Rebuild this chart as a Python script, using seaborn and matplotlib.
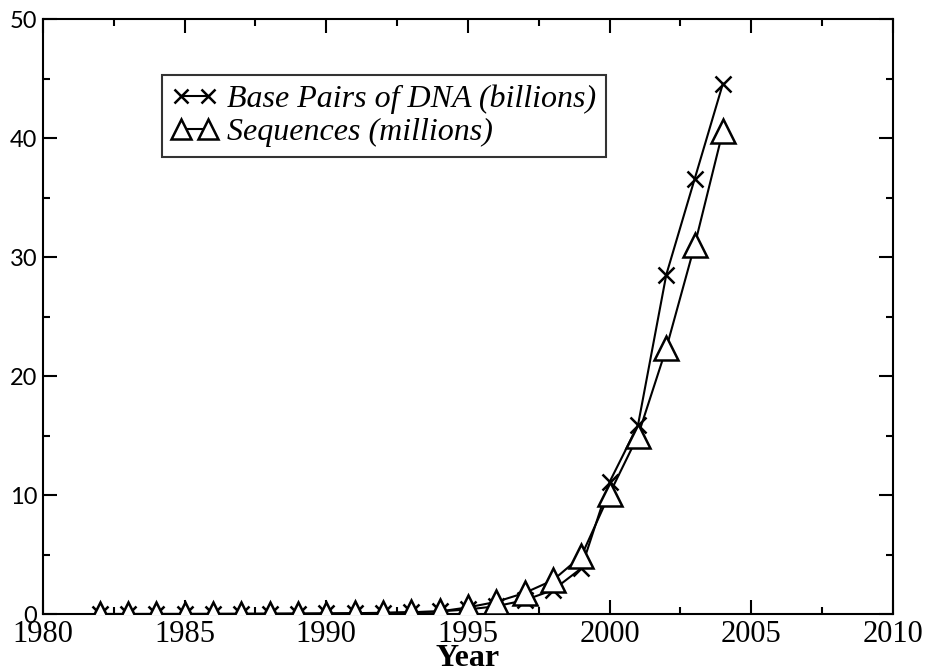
import matplotlib
matplotlib.use("Agg")
import matplotlib.pyplot as plt
import seaborn as sns
import pandas as pd

# GenBank growth, 1982-2004
years = [1982, 1983, 1984, 1985, 1986, 1987, 1988, 1989, 1990, 1991, 1992, 1993,
         1994, 1995, 1996, 1997, 1998, 1999, 2000, 2001, 2002, 2003, 2004]
base_pairs_billions = [0.00068, 0.0023, 0.0034, 0.0052, 0.0096, 0.0155, 0.0238, 0.0348,
                       0.0492, 0.0719, 0.101, 0.157, 0.217, 0.385, 0.652, 1.16, 2.01,
                       3.84, 11.10, 15.85, 28.51, 36.55, 44.58]
sequences_millions = [0.0006, 0.0024, 0.0042, 0.0057, 0.0100, 0.0146, 0.0206, 0.0288,
                      0.0395, 0.0556, 0.0786, 0.143, 0.215, 0.556, 1.02, 1.77, 2.84,
                      4.86, 10.11, 14.98, 22.32, 30.97, 40.60]

bp_label = "Base Pairs of DNA (billions)"
seq_label = "Sequences (millions)"

df = pd.DataFrame({"Year": years, "bp": base_pairs_billions, "seq": sequences_millions})

sns.set_theme(style="white")
plt.rcParams["font.family"] = ["Liberation Serif", "DejaVu Serif"]
for key in ("text.color", "axes.labelcolor", "xtick.color", "ytick.color", "axes.edgecolor"):
    plt.rcParams[key] = "black"

fig = plt.figure(figsize=(9.26, 6.72), dpi=100)
ax = fig.add_axes([0.0464, 0.0863, 0.9179, 0.8854])

sns.lineplot(data=df, x="Year", y="bp", ax=ax, color="black", linewidth=1.5,
             marker="x", markersize=12, markeredgewidth=1.8, markeredgecolor="black",
             label=bp_label, zorder=3)
sns.lineplot(data=df, x="Year", y="seq", ax=ax, color="black", linewidth=1.5,
             marker="^", markersize=17, markeredgewidth=1.8, markeredgecolor="black",
             markerfacecolor="white", label=seq_label, zorder=4)

ax.set_xlim(1980, 2010)
ax.set_ylim(0, 50)
ax.set_xticks([1980, 1985, 1990, 1995, 2000, 2005, 2010])
ax.set_xticks([1982.5, 1987.5, 1992.5, 1997.5, 2002.5, 2007.5], minor=True)
ax.set_yticks([0, 10, 20, 30, 40, 50])
ax.set_yticks([5, 15, 25, 35, 45], minor=True)

ax.tick_params(which="both", direction="in", top=True, right=True,
               bottom=True, left=True, color="black", labelcolor="black", width=1.5)
ax.tick_params(which="major", length=10)
ax.tick_params(which="minor", length=5)
ax.tick_params(axis="x", which="major", labelsize=22, pad=4)
ax.tick_params(axis="y", which="major", labelsize=17, pad=4)
for lab in ax.get_yticklabels():
    lab.set_family("Lato")

for sp in ax.spines.values():
    sp.set_color("black")
    sp.set_linewidth(1.5)

ax.set_xlabel("Year", fontsize=23, fontweight="bold", labelpad=-3, color="black")
ax.set_ylabel("")

leg = ax.legend(loc="upper left", bbox_to_anchor=(162 / 926, 1 - 75 / 672),
                bbox_transform=fig.transFigure, numpoints=2, handlelength=1.45,
                handletextpad=0.3, borderpad=0.3, labelspacing=0.12,
                markerscale=0.85, frameon=True, fancybox=False, borderaxespad=0,
                prop={"family": "Liberation Serif", "style": "italic", "size": 23})
leg.get_frame().set_edgecolor("black")
leg.get_frame().set_linewidth(1.5)
for t in leg.get_texts():
    t.set_color("black")

fig.savefig("out.png", dpi=100)
